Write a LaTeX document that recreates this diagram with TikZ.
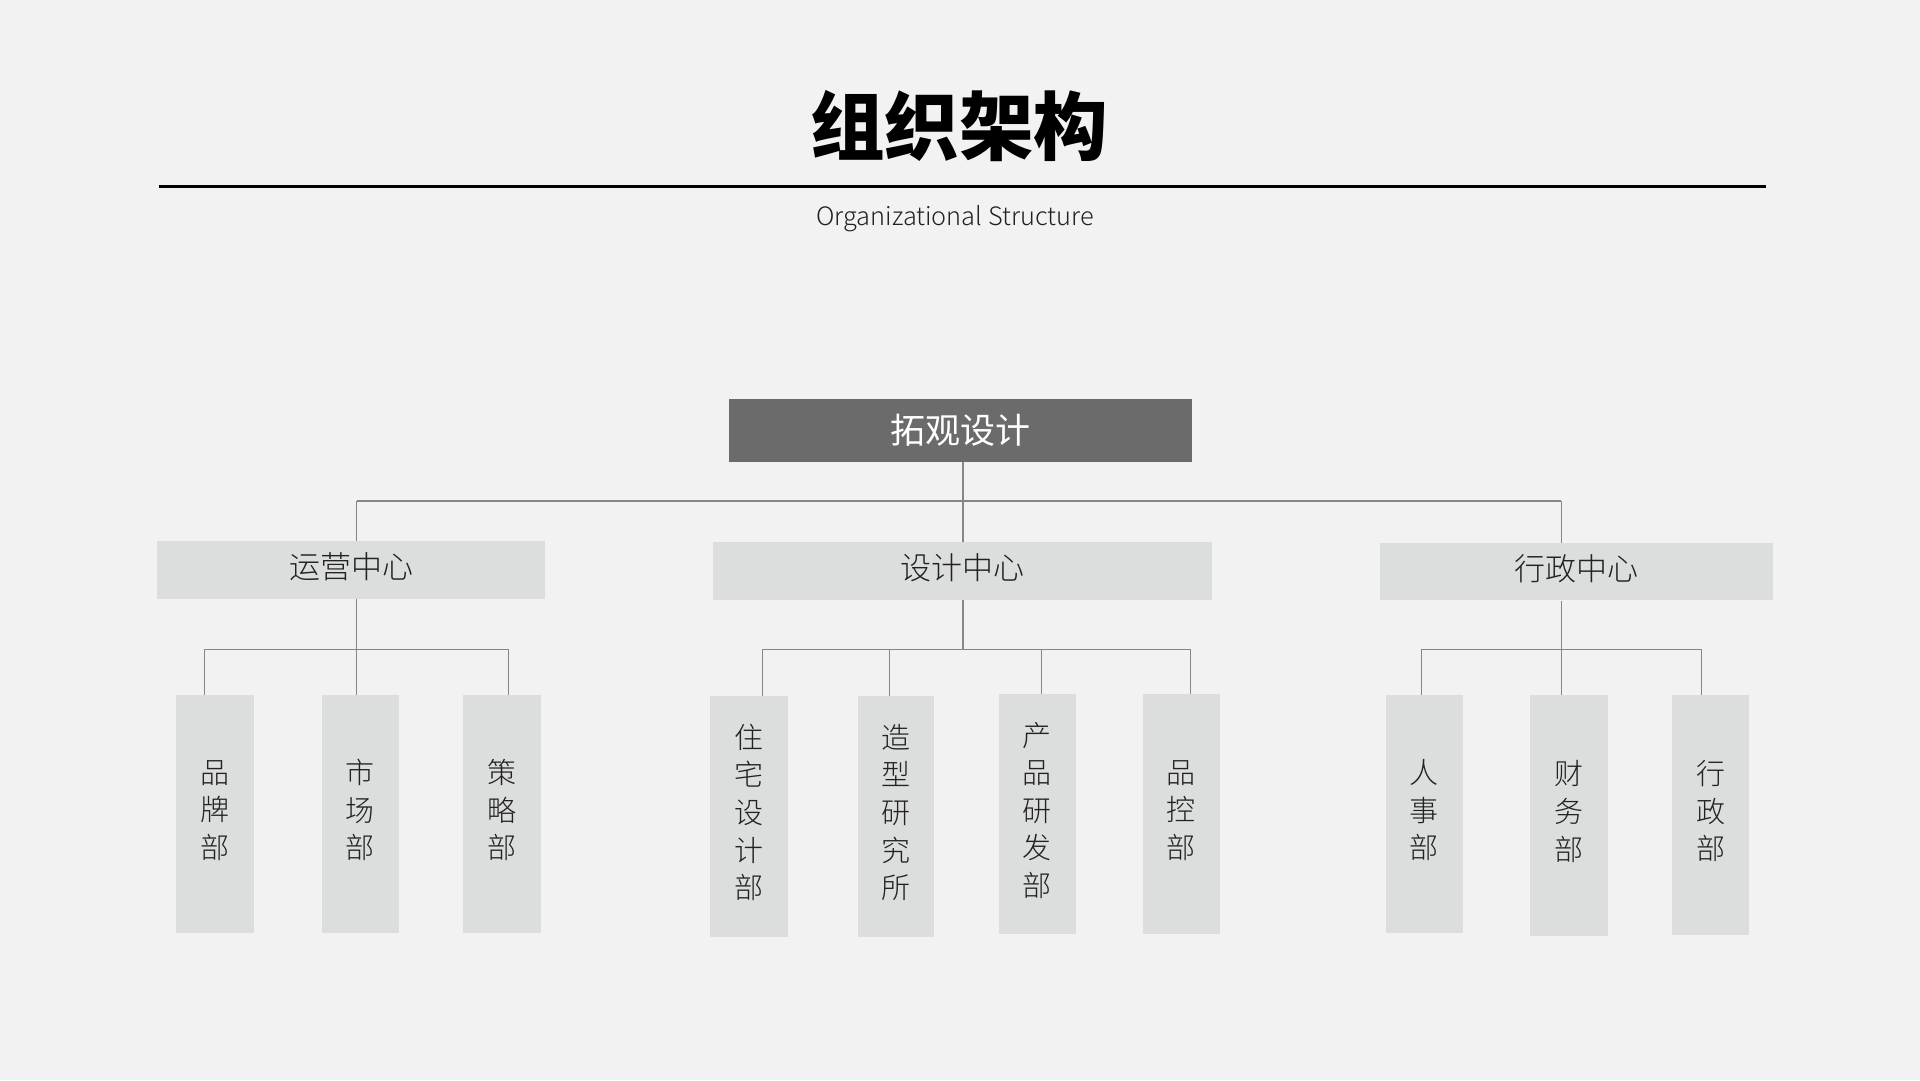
\documentclass[tikz,border=0pt]{standalone}
\usepackage{fontspec}
\newfontfamily\cjk{Noto Sans CJK SC}
\IfFontExistsTF{Noto Sans CJK SC Light}{\newfontfamily\cjkl{Noto Sans CJK SC Light}}{\let\cjkl\cjk}
\definecolor{bg}{HTML}{F2F2F2}
\definecolor{boxgray}{HTML}{DCDDDD}
\definecolor{topgray}{HTML}{6B6B6B}
\definecolor{linegray}{HTML}{868686}
\definecolor{txt}{HTML}{222222}
\tikzset{
  conn/.style={draw=linegray, line width=1.2pt},
  midbox/.style={fill=boxgray, inner sep=0pt, minimum height=57.5pt, text=txt, text depth=8.5pt,
    font=\cjkl\fontsize{31}{31}\selectfont},
  leafbox/.style={fill=boxgray, inner sep=0pt, minimum width=77pt, minimum height=240pt, text=txt,
    align=center, text depth=10pt, font=\cjkl\fontsize{29}{37.6}\selectfont},
}
\begin{document}
\begin{tikzpicture}[x=1pt,y=-1pt]
\fill[bg] (0,0) rectangle (1920,1080);
\useasboundingbox (0,0) rectangle (1920,1080);
% title
\node[font=\cjk\bfseries\fontsize{74.5}{74.5}\selectfont, text=black, inner sep=0pt] (title) at (959,126) {组织架构};
\coordinate (rl) at (159,186.3);
\coordinate (rr) at (1765.7,186.3);
\draw[line width=3.3pt, black] (rl) -- (rr);
\node[font=\cjkl\fontsize{25.3}{25.3}\selectfont, text=txt, inner sep=0pt] (sub) at (955,219) {Organizational Structure};
% top
\node[fill=topgray, inner sep=0pt, minimum width=462.7pt, minimum height=62.7pt, text=white,
  font=\cjk\fontsize{35}{35}\selectfont] (top) at (960.4,430.3) {拓观设计};
% middle
\node[midbox, minimum width=387.7pt] (yy) at (351.2,570.2) {运营中心};
\node[midbox, minimum width=499pt] (sj) at (962.2,571.2) {设计中心};
\node[midbox, minimum width=392.7pt] (xz) at (1576.4,571.7) {行政中心};
% leaves
\node[leafbox, minimum width=78pt, minimum height=238.3pt] (a1) at (215,814.2) {品\\牌\\部};
\node[leafbox, minimum width=76.7pt, minimum height=238.3pt] (a2) at (360.4,814.2) {市\\场\\部};
\node[leafbox, minimum width=77.4pt, minimum height=238.3pt] (a3) at (502,814.2) {策\\略\\部};
\node[leafbox, minimum width=77.5pt, minimum height=240.7pt] (b1) at (748.8,816.4) {住\\宅\\设\\计\\部};
\node[leafbox, minimum width=76.1pt, minimum height=240.7pt] (b2) at (895.6,816.4) {造\\型\\研\\究\\所};
\node[leafbox, minimum width=76.7pt, minimum height=240.3pt] (b3) at (1037.4,814.2) {产\\品\\研\\发\\部};
\node[leafbox, minimum width=76.7pt, minimum height=240.3pt] (b4) at (1181.3,814.2) {品\\控\\部};
\node[leafbox, minimum width=76.7pt, minimum height=238pt] (c1) at (1424.4,814) {人\\事\\部};
\node[leafbox, minimum width=77.4pt, minimum height=240.7pt] (c2) at (1569,815.4) {财\\务\\部};
\node[leafbox, minimum width=77pt, minimum height=240pt] (c3) at (1710.5,815) {行\\政\\部};
% level 1 connectors
\coordinate (j0) at (963,501);
\coordinate (jl) at (356.7,501);
\coordinate (jr) at (1561.3,501);
\draw[conn] (top.south -| j0) -- (j0);
\draw[conn] (jl) -- (jr);
\draw[conn] (jl) -- (yy.north -| jl);
\draw[conn] (j0) -- (sj.north -| j0);
\draw[conn] (jr) -- (xz.north -| jr);
% group a
\coordinate (pa) at (356.7,649.3);
\coordinate (pa1) at (204.3,649.3);
\coordinate (pa3) at (508.3,649.3);
\draw[conn] (yy.south -| pa) -- (pa);
\draw[conn] (pa1) -- (pa3);
\draw[conn] (pa1) -- (a1.north -| pa1);
\draw[conn] (pa) -- (a2.north -| pa);
\draw[conn] (pa3) -- (a3.north -| pa3);
% group b
\coordinate (pb) at (963,649.3);
\coordinate (pb1) at (762.5,649.3);
\coordinate (pb2) at (889.3,649.3);
\coordinate (pb3) at (1041.4,649.3);
\coordinate (pb4) at (1190.4,649.3);
\draw[conn] (sj.south -| pb) -- (pb);
\draw[conn] (pb1) -- (pb4);
\draw[conn] (pb1) -- (b1.north -| pb1);
\draw[conn] (pb2) -- (b2.north -| pb2);
\draw[conn] (pb3) -- (b3.north -| pb3);
\draw[conn] (pb4) -- (b4.north -| pb4);
% group c
\coordinate (pc) at (1561.3,649.3);
\coordinate (pc1) at (1421.5,649.3);
\coordinate (pc3) at (1701.3,649.3);
\draw[conn] (xz.south -| pc) -- (pc);
\draw[conn] (pc1) -- (pc3);
\draw[conn] (pc1) -- (c1.north -| pc1);
\draw[conn] (pc) -- (c2.north -| pc);
\draw[conn] (pc3) -- (c3.north -| pc3);
\end{tikzpicture}
\end{document}
